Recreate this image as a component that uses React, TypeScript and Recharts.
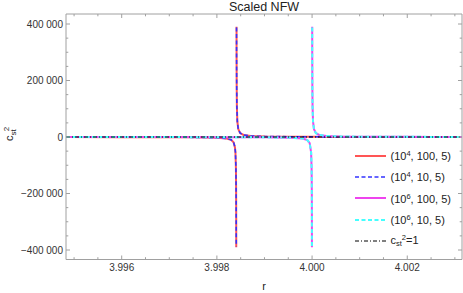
import React from 'react';
import { LineChart, Line, XAxis, YAxis } from 'recharts';

const FONT = '"Liberation Sans", Arial, sans-serif';

// c_st^2 against r; null = break at the pole
const redSeries: [number, number | null][] = [
  [3.99483, -310], [3.996, -455], [3.997, -775], [3.9975, -1200], [3.998, -2680],
  [3.9982, -5200], [3.9983, -10000], [3.99835, -18300], [3.99838, -36700],
  [3.99839, -55000], [3.9984, -110000], [3.998404, -183000], [3.998406, -275000],
  [3.9984072, -390000], [3.99841, null],
  [3.9984128, 390000], [3.998414, 275000], [3.998416, 183000], [3.99842, 110000],
  [3.99843, 55000], [3.99845, 27500], [3.99849, 13800], [3.99856, 7300],
  [3.99871, 3700], [3.99901, 1850], [3.9995, 1000], [4.0, 690], [4.001, 430],
  [4.002, 310], [4.00315, 232],
];

const blueSeries: [number, number | null][] = [
  [3.99483, -305], [3.996, -450], [3.997, -765], [3.9975, -1180], [3.998, -2650],
  [3.9982, -5150], [3.9983, -9900], [3.99835, -18000], [3.99838, -36000],
  [3.99839, -54000], [3.9984, -108000], [3.998404, -180000], [3.998406, -272000],
  [3.9984072, -388000], [3.99841, null],
  [3.9984128, 388000], [3.998414, 272000], [3.998416, 180000], [3.99842, 108000],
  [3.99843, 54000], [3.99845, 27000], [3.99849, 13600], [3.99856, 7200],
  [3.99871, 3650], [3.99901, 1830], [3.9995, 990], [4.0, 680], [4.001, 425],
  [4.002, 305], [4.00315, 230],
];

const magentaSeries: [number, number | null][] = [
  [3.99483, -213], [3.996, -275], [3.997, -367], [3.998, -550], [3.999, -1100],
  [3.9995, -2200], [3.9998, -5500], [3.9999, -11000], [3.99995, -22000],
  [3.99998, -55000], [3.99999, -110000], [3.999994, -183000], [3.999996, -275000],
  [3.9999972, -390000], [4.0, null],
  [4.0000028, 390000], [4.000004, 275000], [4.000006, 183000], [4.00001, 110000],
  [4.00002, 55000], [4.00004, 27500], [4.00008, 13800], [4.00015, 7300],
  [4.0003, 3700], [4.0006, 1850], [4.001, 1100], [4.0015, 730], [4.002, 550],
  [4.0025, 440], [4.00315, 350],
];

const cyanSeries: [number, number | null][] = [
  [3.99483, -210], [3.996, -272], [3.997, -362], [3.998, -545], [3.999, -1090],
  [3.9995, -2180], [3.9998, -5450], [3.9999, -10900], [3.99995, -21800],
  [3.99998, -54500], [3.99999, -109000], [3.999994, -181000], [3.999996, -272000],
  [3.9999972, -388000], [4.0, null],
  [4.0000028, 388000], [4.000004, 272000], [4.000006, 181000], [4.00001, 109000],
  [4.00002, 54500], [4.00004, 27200], [4.00008, 13600], [4.00015, 7200],
  [4.0003, 3650], [4.0006, 1830], [4.001, 1090], [4.0015, 725], [4.002, 545],
  [4.0025, 435], [4.00315, 345],
];

const unitSeries: [number, number][] = [[3.99483, 1], [4.00315, 1]];

const xDomain = [3.99483, 4.00315];
const yDomain = [-433600, 435400];

const xTicks = [
  3.995, 3.9955, 3.996, 3.9965, 3.997, 3.9975, 3.998, 3.9985, 3.999, 3.9995,
  4.0, 4.0005, 4.001, 4.0015, 4.002, 4.0025, 4.003,
];
const xMajor = [3.996, 3.998, 4.0, 4.002];
const xLabels = ['3.996', '3.998', '4.000', '4.002'];

const yTicks = [
  -400000, -350000, -300000, -250000, -200000, -150000, -100000, -50000, 0,
  50000, 100000, 150000, 200000, 250000, 300000, 350000, 400000,
];
const yMajor = [-400000, -200000, 0, 200000, 400000];
const yLabels = ['\u2212400 000', '\u2212200 000', '0', '200 000', '400 000'];

const legendItems = [
  { sup: '4', rest: ', 100, 5)', color: '#ff5555', dash: undefined, w: 2 },
  { sup: '4', rest: ', 10, 5)', color: '#3333ff', dash: '4 2.5', w: 1.5 },
  { sup: '6', rest: ', 100, 5)', color: '#ee44ee', dash: undefined, w: 2 },
  { sup: '6', rest: ', 10, 5)', color: '#44ffff', dash: '4 2.5', w: 2 },
];

const FRAME = '#a0a0a0';
const TEXT = '#333';

const toPts = (arr: [number, number | null][]) => arr.map(([r, c]) => ({ r, c }));

const majorIdx = (list: number[], v: number) =>
  list.findIndex((m) => Math.abs(m - v) < 1e-9);

const BottomTick = (props: any) => {
  const { x, y, payload } = props;
  const i = majorIdx(xMajor, payload.value);
  return (
    <g>
      <line x1={x} x2={x} y1={y} y2={y - (i >= 0 ? 4 : 2.3)} stroke={FRAME} />
      {i >= 0 && (
        <text x={x} y={y + 11.5} textAnchor="middle" fontSize={10} fontFamily={FONT} fill={TEXT}>
          {xLabels[i]}
        </text>
      )}
    </g>
  );
};

const TopTick = (props: any) => {
  const { x, y, payload } = props;
  const i = majorIdx(xMajor, payload.value);
  return <line x1={x} x2={x} y1={y} y2={y + (i >= 0 ? 4 : 2.3)} stroke={FRAME} />;
};

const LeftTick = (props: any) => {
  const { x, y, payload } = props;
  const i = majorIdx(yMajor, payload.value);
  return (
    <g>
      <line x1={x} x2={x + (i >= 0 ? 4 : 2.3)} y1={y} y2={y} stroke={FRAME} />
      {i >= 0 && (
        <text x={x - 3} y={y + 3.6} textAnchor="end" fontSize={10} fontFamily={FONT} fill={TEXT}>
          {yLabels[i]}
        </text>
      )}
    </g>
  );
};

const RightTick = (props: any) => {
  const { x, y, payload } = props;
  const i = majorIdx(yMajor, payload.value);
  return <line x1={x} x2={x - (i >= 0 ? 4 : 2.3)} y1={y} y2={y} stroke={FRAME} />;
};

export default function App() {
  return (
    <div style={{ position: 'absolute', left: 0, top: 0, width: 463, height: 293, background: '#fff' }}>
      <LineChart width={463} height={293} margin={{ top: 13, right: 0, bottom: 0, left: 0 }}>
        <XAxis
          xAxisId="bottom"
          dataKey="r"
          type="number"
          domain={xDomain}
          allowDataOverflow
          ticks={xTicks}
          interval={0}
          height={33.5}
          tickSize={0}
          tickMargin={0}
          tickLine={false}
          axisLine={{ stroke: FRAME }}
          tick={(p: any) => <BottomTick {...p} />}
        />
        <XAxis
          xAxisId="top"
          orientation="top"
          dataKey="r"
          type="number"
          domain={xDomain}
          allowDataOverflow
          ticks={xTicks}
          interval={0}
          height={1}
          tickSize={0}
          tickMargin={0}
          tickLine={false}
          axisLine={{ stroke: FRAME }}
          tick={(p: any) => <TopTick {...p} />}
        />
        <YAxis
          yAxisId="left"
          type="number"
          domain={yDomain}
          allowDataOverflow
          ticks={yTicks}
          interval={0}
          width={66}
          tickSize={0}
          tickMargin={0}
          tickLine={false}
          axisLine={{ stroke: FRAME }}
          tick={(p: any) => <LeftTick {...p} />}
        />
        <YAxis
          yAxisId="right"
          orientation="right"
          type="number"
          domain={yDomain}
          allowDataOverflow
          ticks={yTicks}
          interval={0}
          width={1}
          tickSize={0}
          tickMargin={0}
          tickLine={false}
          axisLine={{ stroke: FRAME }}
          tick={(p: any) => <RightTick {...p} />}
        />
        <Line xAxisId="bottom" yAxisId="left" data={toPts(redSeries)} dataKey="c" stroke="#ff5555" strokeWidth={2} dot={false} isAnimationActive={false} />
        <Line xAxisId="bottom" yAxisId="left" data={toPts(blueSeries)} dataKey="c" stroke="#3333ff" strokeWidth={1.6} strokeDasharray="4 2.5" dot={false} isAnimationActive={false} />
        <Line xAxisId="bottom" yAxisId="left" data={toPts(magentaSeries)} dataKey="c" stroke="#ee44ee" strokeWidth={2} dot={false} isAnimationActive={false} />
        <Line xAxisId="bottom" yAxisId="left" data={toPts(cyanSeries)} dataKey="c" stroke="#44ffff" strokeWidth={2} strokeDasharray="4 2.5" dot={false} isAnimationActive={false} />
        <Line xAxisId="bottom" yAxisId="left" data={toPts(unitSeries)} dataKey="c" stroke="#000" strokeWidth={1.2} strokeDasharray="4 2 1 2" dot={false} isAnimationActive={false} />
      </LineChart>

      <svg width={463} height={293} style={{ position: 'absolute', left: 0, top: 0, pointerEvents: 'none' }}>
        <text x={264} y={11} textAnchor="middle" fontSize={12.5} fontFamily={FONT} fill="#222">
          Scaled NFW
        </text>
        <text x={264} y={290} textAnchor="middle" fontSize={11} fontFamily={FONT} fill="#222">
          r
        </text>
        <text transform="translate(13,134) rotate(-90)" textAnchor="middle" fontSize={11} fontFamily={FONT} fill="#222">
          c<tspan fontSize={8} dy={2.5}>st</tspan>
          <tspan fontSize={8} dx={-2} dy={-7}>2</tspan>
        </text>
      </svg>

      <div style={{ position: 'absolute', left: 355, top: 145, fontFamily: FONT, fontSize: 11, color: '#222' }}>
        {legendItems.map((it, k) => (
          <div key={k} style={{ height: 21.3, display: 'flex', alignItems: 'center', whiteSpace: 'nowrap' }}>
            <svg width={31} height={4} style={{ marginRight: 4.5 }}>
              <line x1={0} x2={31} y1={2} y2={2} stroke={it.color} strokeWidth={it.w} strokeDasharray={it.dash} />
            </svg>
            <span>
              (10<sup style={{ fontSize: 7.5, verticalAlign: 4 }}>{it.sup}</sup>
              {it.rest}
            </span>
          </div>
        ))}
        <div style={{ height: 21.3, display: 'flex', alignItems: 'center', whiteSpace: 'nowrap' }}>
          <svg width={31} height={4} style={{ marginRight: 4.5 }}>
            <line x1={0} x2={31} y1={2} y2={2} stroke="#000" strokeWidth={1} strokeDasharray="4 2 1 2" />
          </svg>
          <span>
            c<sub style={{ fontSize: 7.5, verticalAlign: -2 }}>st</sub>
            <sup style={{ fontSize: 7.5, verticalAlign: 4 }}>2</sup>=1
          </span>
        </div>
      </div>
    </div>
  );
}
